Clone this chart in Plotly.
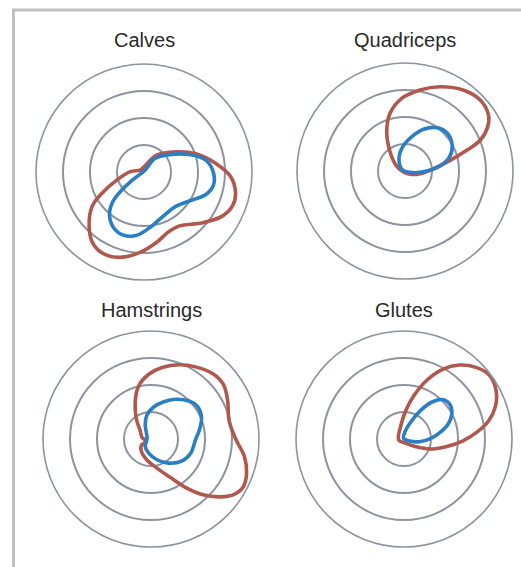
import plotly.graph_objects as go

# Muscle groups, one polar panel each
muscles = ["Calves", "Quadriceps", "Hamstrings", "Glutes"]

# Polar traces: angle in degrees (counter-clockwise from east), radius in ring units
calves_red_theta = [98, 53, 32, 19.5, 6.8, -3, -13, -21, -29.4, -40.9, -56.6, -66.5, -80, -92.8,
                    -105.5, -116, -126, -135.5, -146.5, -153.3, -163.7, 178.6, 153]
calves_red_r = [0.17, 0.78, 1.41, 2.04, 2.68, 3.21, 3.48, 3.51, 3.33, 2.87, 2.39, 2.38, 2.65, 2.98,
                3.28, 3.38, 3.24, 2.85, 2.3, 1.73, 1.04, 0.51, 0.16]
calves_blue_theta = [60, 51, 34, 21, 10.8, 0.3, -10.5, -20, -29.6, -46.7, -69, -84, -96.5, -108,
                     -118.6, -129, -136.6, -141, -145.5]
calves_blue_r = [0.08, 0.64, 1.15, 1.8, 2.33, 2.56, 2.62, 2.44, 2.08, 1.74, 1.81, 2.07, 2.36, 2.46,
                 2.35, 2.03, 1.58, 1.05, 0.47]

quad_red_theta = [200, 148, 128, 115, 104.7, 92.6, 79.5, 67.4, 54, 43.3, 33.7, 28.1, 22.2, 18.5,
                  13.3, 4.7, -10, -33.7]
quad_red_r = [0.08, 0.39, 0.9, 1.6, 2.2, 2.69, 3.05, 3.38, 3.7, 3.83, 3.72, 3.47, 3.01, 2.41,
              1.72, 1.06, 0.57, 0.22]
quad_blue_theta = [160, 116, 94, 79, 66, 53.8, 41.4, 28.6, 17.5, 8.1, 0, -11]
quad_blue_r = [0.09, 0.51, 0.93, 1.29, 1.69, 1.99, 2.1, 1.99, 1.73, 1.31, 0.8, 0.32]

ham_red_theta = [169.5, 144, 125, 112.6, 103, 92, 81.2, 69.4, 58.3, 46.8, 37.2, 27.4, 12.8, -0.5,
                 -10.6, -19.7, -27.3, -33.6, -39.6, -46.6, -53.7, -63.2, -78.3, -101, -128, -146.8,
                 -155]
ham_red_r = [0.34, 0.49, 0.96, 1.52, 2.02, 2.4, 2.68, 2.94, 3.14, 3.33, 3.36, 3.19, 2.97, 3.15,
             3.52, 3.76, 3.85, 3.7, 3.36, 2.86, 2.27, 1.6, 1.1, 0.79, 0.58, 0.43, 0.2]
ham_blue_theta = [166, 111.6, 99.6, 85.2, 71, 58.3, 45, 35.4, 24.4, 12.7, -0.9, -19.6, -35, -53.6,
                  -73.8, -99.5, -127.7, -153]
ham_blue_r = [0.15, 0.58, 0.9, 1.19, 1.46, 1.73, 1.99, 2.1, 2.05, 1.86, 1.65, 1.56, 1.41, 1.11,
              0.8, 0.53, 0.35, 0.19]

glutes_red_theta = [190, 102, 86, 76.8, 69.2, 61, 53.2, 44.9, 36.9, 28, 19.5, 12, 5.7, -2, -10.3,
                    -21.5, -32.6, -65]
glutes_red_r = [0.2, 0.53, 1.08, 1.67, 2.3, 2.95, 3.42, 3.76, 3.95, 3.86, 3.59, 3.2, 2.74, 2.17,
                1.58, 1.01, 0.53, 0.18]
glutes_blue_theta = [120, 80.5, 68, 59.6, 52.5, 45, 37, 28.1, 19.3, 11.2, 1.4, -9.9, -20.6]
glutes_blue_r = [0.03, 0.3, 0.69, 1.24, 1.74, 2.06, 2.13, 2.01, 1.75, 1.4, 1.0, 0.58, 0.21]

red_series = [(calves_red_theta, calves_red_r), (quad_red_theta, quad_red_r),
              (ham_red_theta, ham_red_r), (glutes_red_theta, glutes_red_r)]
blue_series = [(calves_blue_theta, calves_blue_r), (quad_blue_theta, quad_blue_r),
               (ham_blue_theta, ham_blue_r), (glutes_blue_theta, glutes_blue_r)]

ring_ticks = [1, 2, 3]

W, H = 521, 567
RED = "#b0584e"
BLUE = "#2a7fc4"
RING = "#8c949f"

# panel centres and outer radius in pixels
centres = [(144, 172), (405, 171), (151, 439), (404, 439)]
radius = 108


def closed(seq):
    return list(seq) + [seq[0]]


fig = go.Figure()
annotations = []
for i, name in enumerate(muscles):
    key = "polar" if i == 0 else f"polar{i + 1}"
    cx, cy = centres[i]
    fig.update_layout({
        key: dict(
            domain=dict(x=[(cx - radius) / W, (cx + radius) / W],
                        y=[1 - (cy + radius) / H, 1 - (cy - radius) / H]),
            bgcolor="rgba(0,0,0,0)",
            radialaxis=dict(range=[0, 4], tickvals=ring_ticks, showticklabels=False,
                            ticks="", showline=False, gridcolor=RING, gridwidth=1.6),
            angularaxis=dict(showgrid=False, showticklabels=False, ticks="",
                             showline=True, linecolor=RING, linewidth=1.6,
                             rotation=0, direction="counterclockwise"),
        )
    })
    subplot = "polar" if i == 0 else f"polar{i + 1}"
    th, rr = red_series[i]
    fig.add_trace(go.Scatterpolar(theta=closed(th), r=closed(rr), mode="lines",
                                  line=dict(color=RED, width=3.6, shape="spline", smoothing=1),
                                  subplot=subplot, showlegend=False, hoverinfo="skip"))
    th, rr = blue_series[i]
    fig.add_trace(go.Scatterpolar(theta=closed(th), r=closed(rr), mode="lines",
                                  line=dict(color=BLUE, width=3.6, shape="spline", smoothing=1),
                                  subplot=subplot, showlegend=False, hoverinfo="skip"))
    title_y = 40 if i < 2 else 310
    annotations.append(dict(text=name, x=cx / W, y=1 - title_y / H, xref="paper", yref="paper",
                            showarrow=False, xanchor="center", yanchor="middle",
                            font=dict(size=20, color="#2a2a2a",
                                      family="Liberation Sans, Arial, sans-serif")))

# light frame running off the right and bottom edges
frame = dict(type="rect", xref="paper", yref="paper",
             x0=13.5 / W, x1=1.05, y0=-0.05, y1=1 - 10 / H,
             line=dict(color="#c2c2c2", width=3), fillcolor="rgba(0,0,0,0)", layer="below")

fig.update_layout(width=W, height=H, margin=dict(l=0, r=0, t=0, b=0),
                  paper_bgcolor="white", plot_bgcolor="white",
                  annotations=annotations, shapes=[frame])

fig.write_html("out.html")
